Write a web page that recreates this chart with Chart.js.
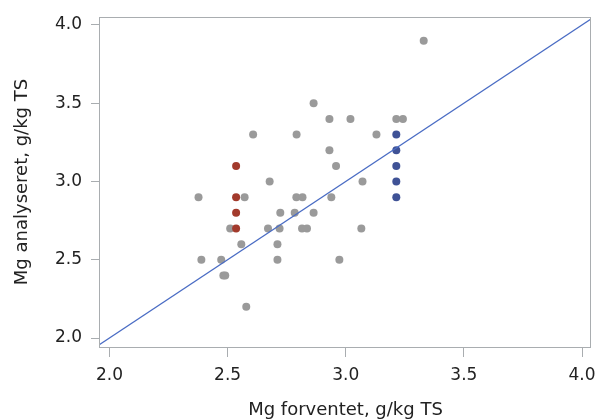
<!DOCTYPE html>
<html>
<head>
<meta charset="utf-8">
<script src="https://cdn.jsdelivr.net/npm/chart.js@4"></script>
<style>
  html, body { margin: 0; padding: 0; background: #fff; }
  #wrap { width: 597px; height: 420px; }
</style>
</head>
<body>
<div id="wrap"><canvas id="chart" width="597" height="420"></canvas></div>
<script>
// Mg forventet (x) vs Mg analyseret (y), g/kg TS
var grayX = [3.33, 2.864, 2.931, 3.02, 3.214, 3.242, 2.608, 2.792, 3.13, 2.931, 2.959,
	2.678, 3.071, 2.377, 2.572, 2.791, 2.817, 2.939, 2.723, 2.784, 2.864,
	2.511, 2.671, 2.72, 2.815, 2.836, 3.066, 2.558, 2.711, 2.389, 2.473, 2.711, 2.973,
	2.482, 2.49, 2.579];
var grayY = [3.9, 3.5, 3.4, 3.4, 3.4, 3.4, 3.3, 3.3, 3.3, 3.2, 3.1,
	3.0, 3.0, 2.9, 2.9, 2.9, 2.9, 2.9, 2.8, 2.8, 2.8,
	2.7, 2.7, 2.7, 2.7, 2.7, 2.7, 2.6, 2.6, 2.5, 2.5, 2.5, 2.5,
	2.4, 2.4, 2.2];
var redX = [2.536, 2.536, 2.536, 2.536];
var redY = [3.1, 2.9, 2.8, 2.7];
var blueX = [3.214, 3.214, 3.214, 3.214, 3.214];
var blueY = [3.3, 3.2, 3.1, 3.0, 2.9];
var lineX = [1.9, 4.1];
var lineY = [1.9, 4.1];
var xTicks = [2.0, 2.5, 3.0, 3.5, 4.0];
var yTicks = [2.0, 2.5, 3.0, 3.5, 4.0];

function pairs(xs, ys) {
	return xs.map(function (x, i) { return {x: x, y: ys[i]}; });
}

var fontFamily = '"DejaVu Sans", sans-serif';
var frameColor = '#a9adb0';

// Box around the plot area
var framePlugin = {
	id: 'frame',
	afterDatasetsDraw: function (chart) {
		var a = chart.chartArea;
		var ctx = chart.ctx;
		ctx.save();
		ctx.strokeStyle = frameColor;
		ctx.lineWidth = 1;
		ctx.strokeRect(Math.round(a.left) - 0.5, Math.round(a.top) + 0.5,
			Math.round(a.right - a.left), Math.round(a.bottom - a.top));
		ctx.restore();
	}
};

var ctx = document.getElementById('chart').getContext('2d');
new Chart(ctx, {
	type: 'scatter',
	data: {
		datasets: [
			{
				type: 'line',
				data: pairs(lineX, lineY),
				borderColor: '#4a6cc4',
				borderWidth: 1.2,
				pointRadius: 0,
				fill: false,
				order: 1
			},
			{
				data: pairs(redX, redY),
				backgroundColor: '#a23a2c',
				borderWidth: 0,
				pointRadius: 4,
				order: 2
			},
			{
				data: pairs(blueX, blueY),
				backgroundColor: '#3f5296',
				borderWidth: 0,
				pointRadius: 4,
				order: 2
			},
			{
				data: pairs(grayX, grayY),
				backgroundColor: '#9a9a9a',
				borderWidth: 0,
				pointRadius: 4,
				order: 3
			}
		]
	},
	options: {
		responsive: false,
		animation: false,
		layout: { padding: { left: 0, top: 17, right: 6, bottom: 0 } },
		plugins: { legend: { display: false }, tooltip: { enabled: false } },
		scales: {
			x: {
				type: 'linear',
				min: 1.96,
				max: 4.038,
				afterBuildTicks: function (scale) {
					scale.ticks = xTicks.map(function (v) { return {value: v}; });
				},
				afterFit: function (scale) {
					scale.height = 73;
					scale.paddingLeft = 0;
					scale.paddingRight = 0;
				},
				grid: { drawOnChartArea: false, drawTicks: true, tickLength: 10, color: frameColor },
				border: { display: false },
				ticks: {
					padding: 8,
					color: '#222',
					font: { family: fontFamily, size: 17 },
					callback: function (v) { return Number(v).toFixed(1); }
				},
				title: {
					display: true,
					text: 'Mg forventet, g/kg TS',
					color: '#222',
					font: { family: fontFamily, size: 18, lineHeight: 1 },
					padding: { top: 0, bottom: 1 }
				}
			},
			y: {
				type: 'linear',
				min: 1.943,
				max: 4.051,
				afterBuildTicks: function (scale) {
					scale.ticks = yTicks.map(function (v) { return {value: v}; });
				},
				afterFit: function (scale) {
					scale.width = 100;
					scale.paddingTop = 0;
					scale.paddingBottom = 0;
				},
				grid: { drawOnChartArea: false, drawTicks: true, tickLength: 9, color: frameColor },
				border: { display: false },
				ticks: {
					padding: 9,
					color: '#222',
					font: { family: fontFamily, size: 17 },
					callback: function (v) { return Number(v).toFixed(1); }
				},
				title: {
					display: true,
					text: 'Mg analyseret, g/kg TS',
					color: '#222',
					font: { family: fontFamily, size: 18, lineHeight: 1 },
					padding: { top: 13, bottom: 0 }
				}
			}
		}
	},
	plugins: [framePlugin]
});
</script>
</body>
</html>
